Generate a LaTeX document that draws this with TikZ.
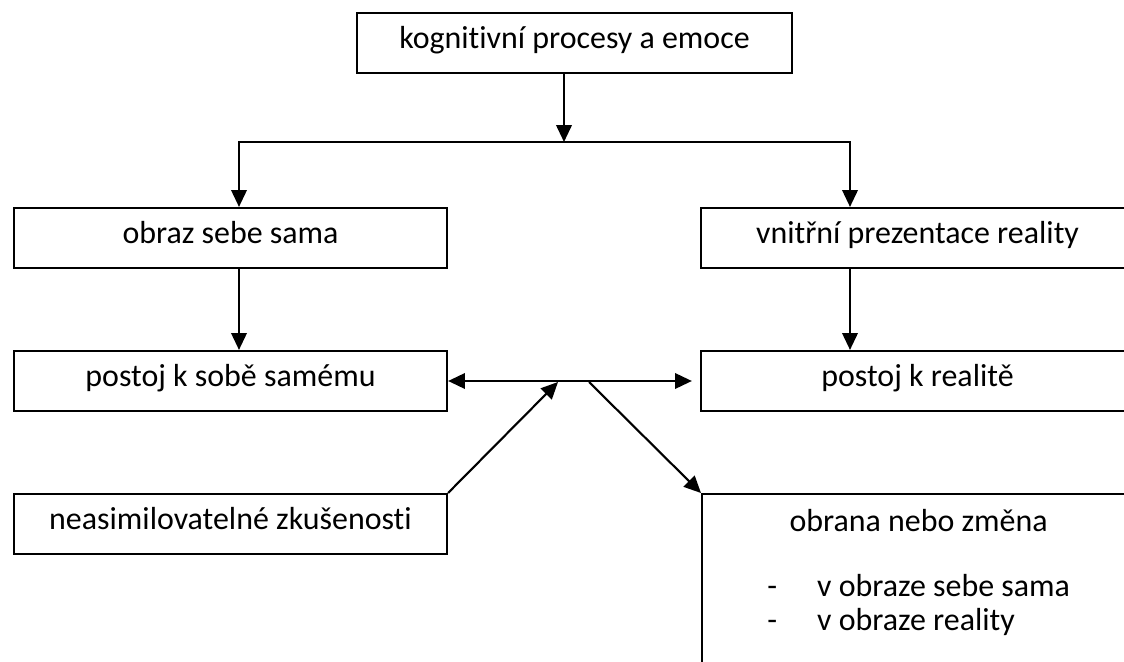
\documentclass[tikz,border=0pt]{standalone}
\usepackage{fontspec}
\setmainfont{Carlito}[Ligatures=NoCommon]
\usetikzlibrary{arrows.meta}
\tikzset{
  frame/.style={draw, line width=1.5pt, inner sep=0pt, minimum width=10.825cm,
    font=\fontsize{22.7}{24.2}\selectfont},
  box/.style={frame, minimum height=1.5cm, text height=0.9em, text depth=0.18em},
  conn/.style={line width=1.5pt, -{Triangle[length=12pt,width=11pt]}},
  both/.style={line width=1.5pt, {Triangle[length=12pt,width=11pt]}-{Triangle[length=12pt,width=11pt]}},
}
\newcommand{\boxat}[4]{%
\node[box] (#1) at (#2,#3) {#4};
}

\begin{document}
\begin{tikzpicture}[x=0.025cm, y=-0.025cm]
\useasboundingbox (0,0) rectangle (1124,662);
\clip (0,0) rectangle (1124,662);

\node[box, minimum width=10.875cm] (kog) at (574.5,43) {kognitivní procesy a emoce};

\boxat{obraz}{230.5}{238}{obraz sebe sama}
\boxat{vnitrni}{917.5}{238}{vnitřní prezentace reality}

\boxat{sebe}{230.5}{381}{postoj k sobě samému}
\boxat{realita}{917.5}{381}{postoj k realitě}

\boxat{neasim}{230.5}{524}{neasimilovatelné zkušenosti}

\node[frame, anchor=north west, inner ysep=9.4pt] (obrana) at (701,493) {%
\begin{tabular}[t]{@{}l@{\hspace{28.5pt}}l@{}}
\multicolumn{2}{c}{obrana nebo změna}\\[22pt]
- & v obraze sebe sama\\
- & v obraze reality\\[40pt]
\end{tabular}};

% rozvetveni
\coordinate (split) at (564,142);
\coordinate (lt) at (239,142);
\coordinate (rt) at (850,142);
\draw[conn] (split |- kog.south) -- (split);
\draw[both] (obraz.north -| lt) -- (lt) -- (rt) -- (vnitrni.north -| rt);

\draw[conn] (obraz.south -| lt) -- (sebe.north -| lt);
\draw[conn] (vnitrni.south -| rt) -- (realita.north -| rt);

% stred
\coordinate (hubL) at (558,382);
\coordinate (hubR) at (589,382);
\draw[both] (sebe.east) -- ([xshift=-0.2cm]realita.west);
\draw[conn] (neasim.north east) -- (hubL);
\draw[conn] (hubR) -- (obrana.north west);

\end{tikzpicture}
\end{document}
